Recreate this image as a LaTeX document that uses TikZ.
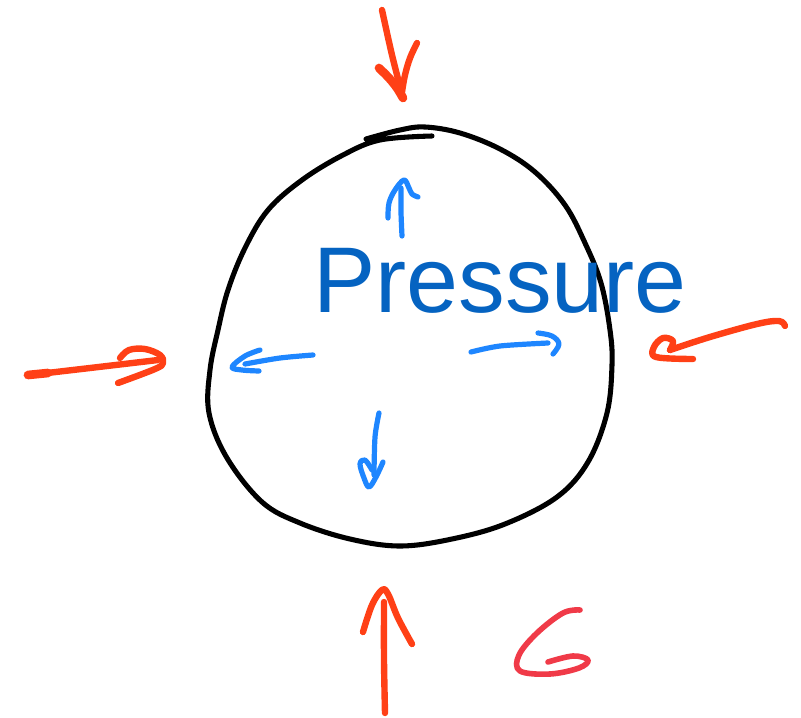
\documentclass[tikz,border=0pt]{standalone}
\usepackage{fontspec}
\setmainfont{Liberation Sans}
\definecolor{inkblack}{RGB}{0,0,0}
\definecolor{inkblue}{RGB}{30,134,255}
\definecolor{inkred}{RGB}{255,64,22}
\definecolor{inkpink}{RGB}{240,58,72}
\definecolor{textblue}{RGB}{5,99,193}
\tikzset{
  outline/.style={draw=inkblack,line width=3.8pt,line cap=round,line join=round},
  bluestroke/.style={draw=inkblue,line width=3.9pt,line cap=round,line join=round},
  redstroke/.style={draw=inkred,line width=4.8pt,line cap=round,line join=round},
  pinkstroke/.style={draw=inkpink,line width=4.2pt,line cap=round,line join=round},
  label/.style={text=textblue,inner sep=0pt,font=\fontsize{70}{80}\selectfont}
}
\begin{document}
\begin{tikzpicture}[x=0.75pt,y=-0.75pt]
\useasboundingbox (0,0) rectangle (801,718);
% outline
\draw[outline] plot[smooth,tension=0.6] coordinates {
 (366,139) (400,130) (425,127) (460,133) (500,149) (535,172) (565,205) (585,243)
 (601,283) (610,330) (612,365) (607,413) (588,462) (557,497) (505,524) (452,539)
 (400,546) (350,539) (300,523) (262,502) (227,458) (209,413) (210,370) (218,330) (228,290)
 (245,248) (268,210) (302,180) (343,155) (380,140) (432,136)};
% text
\node[label,anchor=base west] (p) at (313,312) {Pressure};
% blue arrows
\draw[bluestroke] plot[smooth] coordinates {(402,236) (401,212) (401,188)};
\draw[bluestroke] plot[smooth,tension=0.6] coordinates {(388,218) (389,203) (395,190) (404,180) (409,188) (412,194) (418,197)};
\draw[bluestroke] plot[smooth] coordinates {(313,355) (280,358) (245,364)};
\draw[bluestroke] plot[smooth,tension=0.6] coordinates {(260,350) (245,356) (232,367) (242,370) (259,371)};
\draw[bluestroke] plot[smooth] coordinates {(471,352) (500,346) (548,343)};
\draw[bluestroke] plot[smooth,tension=0.6] coordinates {(538,333) (552,336) (559,344) (553,354)};
\draw[bluestroke] plot[smooth] coordinates {(379,413) (375,437) (374,475)};
\draw[bluestroke] plot[smooth,tension=0.6] coordinates {(383,462) (376,477) (369,487) (364,478) (360,464) (365,460) (372,470)};
% red arrows
\draw[redstroke] plot[smooth] coordinates {(382,10) (392,55) (403,98)};
\draw[redstroke] plot[smooth,tension=0.6] coordinates {(417,43) (410,58) (405,75) (402,92)};
\draw[redstroke,line width=6.5pt] plot[smooth,tension=0.6] coordinates {(379,68) (389,78) (397,88) (403,98)};
\draw[redstroke,line width=6.5pt] (28,375) -- (48,373);
\draw[redstroke] plot[smooth] coordinates {(30,375) (90,368) (158,360)};
\draw[redstroke] plot[smooth,tension=0.6] coordinates {(120,358) (129,350) (145,349) (160,355) (163,363) (155,369) (118,383)};
\draw[redstroke] plot[smooth,tension=0.6] coordinates {(785,326) (779,321) (757,324) (710,337) (670,350)};
\draw[redstroke] plot[smooth,tension=0.6] coordinates {(670,350) (673,341) (663,338) (654,347) (656,357) (693,359)};
\draw[redstroke] plot[smooth] coordinates {(385,713) (384,660) (384,602)};
\draw[redstroke] plot[smooth,tension=0.6] coordinates {(363,632) (372,605) (382,590) (388,594) (398,618) (412,644)};
% G
\draw[pinkstroke] plot[smooth,tension=0.6] coordinates {(580,610) (563,613) (537,633) (519,655) (520,671) (550,674) (579,668) (588,660) (573,656) (548,662)};
\end{tikzpicture}
\end{document}
